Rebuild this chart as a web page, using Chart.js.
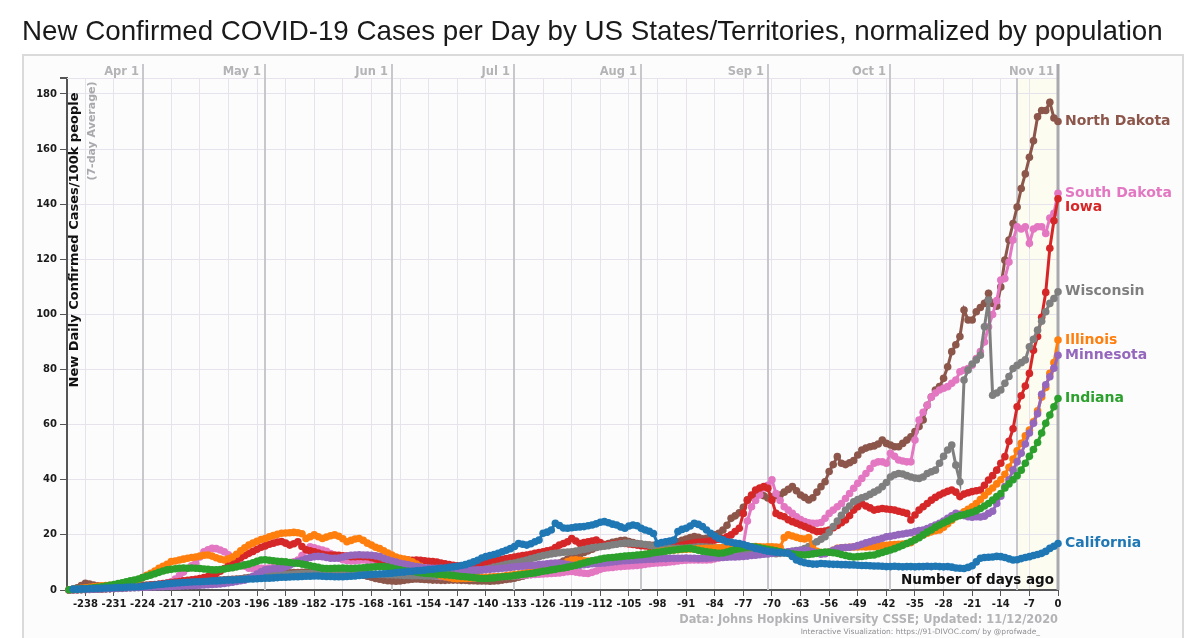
<!DOCTYPE html>
<html>
<head>
<meta charset="utf-8">
<script src="https://cdn.jsdelivr.net/npm/chart.js@4.4.0/dist/chart.umd.min.js"></script>
<style>
  html, body { margin: 0; padding: 0; background: #fff; }
  #wrap { width: 1200px; height: 638px; }
</style>
</head>
<body>
<div id="wrap"><canvas id="covidChart" width="1200" height="638"></canvas></div>
<script>
// day 0 = Nov 11 2020, one value per day starting at firstDay
const firstDay = -242;
const recentFrom = -10;

const xTickValues = [-238, -231, -224, -217, -210, -203, -196, -189, -182, -175, -168, -161, -154, -147, -140, -133, -126, -119, -112, -105, -98, -91, -84, -77, -70, -63, -56, -49, -42, -35, -28, -21, -14, -7, 0];
const yTickValues = [0, 20, 40, 60, 80, 100, 120, 140, 160, 180];
const monthLabels = ['Apr 1', 'May 1', 'Jun 1', 'Jul 1', 'Aug 1', 'Sep 1', 'Oct 1', '', 'Nov 11'];
const monthDays = [-224, -194, -163, -133, -102, -71, -41, -10, 0];

const stateNames = ['California', 'Indiana', 'Minnesota', 'Illinois', 'Wisconsin', 'Iowa', 'South Dakota', 'North Dakota'];
const stateColors = ['#1f77b4', '#2ca02c', '#9467bd', '#ff7f0e', '#7f7f7f', '#d62728', '#e377c2', '#8c564b'];

const california = [
  null, 0.3, 0.3, 0.4,
  0.4, 0.5, 0.5, 0.6, 0.6, 0.7, 0.7,
  0.8, 0.9, 0.9, 1.0, 1.1, 1.1, 1.2,
  1.3, 1.5, 1.6, 1.8, 2.0, 2.1, 2.3,
  2.4, 2.5, 2.6, 2.7, 2.8, 2.9, 3.0,
  3.0, 3.1, 3.2, 3.3, 3.3, 3.4, 3.5,
  3.6, 3.6, 3.7, 3.8, 3.9, 4.0, 4.0,
  4.1, 4.2, 4.3, 4.3, 4.4, 4.5, 4.6,
  4.6, 4.7, 4.8, 4.8, 4.9, 5.0, 5.0,
  5.1, 5.1, 5.0, 4.9, 4.9, 4.8, 4.8,
  4.8, 4.9, 5.0, 5.1, 5.3, 5.4, 5.5,
  5.6, 5.7, 5.8, 5.9, 6.0, 6.1, 6.3,
  6.4, 6.5, 6.7, 6.8, 7.0, 7.1, 7.2,
  7.4, 7.5, 7.7, 7.9, 8.0, 8.2, 8.4,
  8.6, 8.9, 9.2, 9.7, 10.2, 10.8, 11.6,
  12.1, 12.5, 12.9, 13.3, 13.9, 14.4, 15.0,
  15.8, 16.9, 16.6, 16.3, 16.8, 17.5, 18.1,
  20.6, 21.0, 21.8, 24.2, 23.4, 22.5, 22.4,
  22.6, 22.8, 22.9, 23.0, 23.3, 23.6, 24.0,
  24.6, 24.8, 24.4, 23.9, 23.6, 22.9, 22.4,
  23.2, 23.6, 23.3, 22.4, 21.8, 21.3, 20.5,
  16.9, 17.2, 17.5, 17.8, 18.1, 21.2, 22.0,
  22.4, 23.2, 24.2, 23.8, 23.0, 21.8, 20.6,
  19.6, 18.7, 18.2, 17.5, 17.3, 17.0, 16.9,
  16.5, 16.0, 15.6, 15.1, 14.8, 14.4, 14.1,
  13.9, 13.7, 13.6, 13.4, 13.3, 12.2, 10.9,
  10.3, 9.9, 9.6, 9.4, 9.4, 9.6, 9.5,
  9.4, 9.3, 9.3, 9.2, 9.2, 9.1, 9.1,
  9.0, 8.9, 8.9, 8.8, 8.7, 8.7, 8.6,
  8.5, 8.5, 8.6, 8.5, 8.4, 8.5, 8.5,
  8.4, 8.5, 8.5, 8.6, 8.5, 8.6, 8.5,
  8.4, 8.5, 8.3, 8.0, 7.9, 7.8, 8.2,
  8.8, 10.2, 11.5, 11.8, 11.9, 12.0, 12.2,
  12.1, 11.8, 11.3, 10.9, 11.0, 11.4, 11.8,
  12.1, 12.5, 12.9, 13.3, 14.0, 15.1, 15.9,
  16.9
];

const indiana = [
  0.1, 0.2, 0.3, 0.4,
  0.5, 0.6, 0.8, 1.0, 1.2, 1.4, 1.7,
  2.0, 2.3, 2.6, 3.0, 3.3, 3.6, 4.0,
  4.5, 5.0, 5.4, 5.9, 6.4, 6.9, 7.3,
  7.5, 7.7, 7.9, 8.0, 7.9, 8.0, 7.9,
  7.8, 7.6, 7.5, 7.3, 7.3, 7.4, 7.6,
  7.9, 8.1, 8.4, 8.7, 9.1, 9.4, 9.9,
  10.4, 10.9, 11.0, 10.8, 10.6, 10.4, 10.3,
  10.2, 10.0, 9.8, 9.7, 9.4, 9.1, 8.8,
  8.5, 8.2, 7.9, 7.8, 7.8, 7.9, 7.9,
  8.0, 7.9, 7.8, 7.9, 8.0, 8.1, 8.2,
  8.3, 8.4, 8.5, 8.5, 8.3, 8.0, 7.6,
  7.3, 7.0, 6.8, 6.7, 6.5, 6.3, 6.1,
  6.0, 5.9, 5.7, 5.6, 5.5, 5.4, 5.3,
  5.1, 4.9, 4.8, 4.6, 4.5, 4.3, 4.2,
  4.2, 4.3, 4.4, 4.6, 4.8, 4.9, 5.0,
  5.2, 5.4, 5.6, 5.8, 6.0, 6.2, 6.5,
  6.8, 7.0, 7.3, 7.5, 7.8, 8.0, 8.3,
  8.6, 9.0, 9.4, 9.8, 10.2, 10.6, 10.9,
  11.2, 11.5, 11.7, 11.8, 12.0, 12.1, 12.3,
  12.4, 12.5, 12.7, 12.8, 13.0, 13.2, 13.5,
  13.7, 13.9, 14.1, 14.3, 14.5, 14.7, 14.9,
  15.0, 15.1, 14.8, 14.4, 14.1, 13.9, 13.7,
  13.5, 13.3, 13.4, 13.8, 14.2, 14.7, 15.1,
  15.3, 15.5, 15.7, 15.6, 15.3, 15.0, 14.8,
  14.5, 14.2, 13.9, 13.6, 13.3, 13.1, 12.9,
  12.8, 12.7, 12.9, 13.1, 13.3, 13.6, 13.8,
  13.7, 13.5, 13.3, 12.9, 12.5, 12.2, 12.0,
  12.1, 12.2, 12.4, 12.6, 12.7, 13.2, 13.6,
  14.1, 14.5, 15.0, 15.6, 16.2, 16.9, 17.5,
  18.2, 19.0, 20.0, 21.0, 21.8, 22.8, 23.6,
  24.3, 25.0, 25.8, 26.6, 27.0, 27.3, 27.8,
  28.2, 28.8, 29.6, 30.5, 31.4, 32.6, 33.9,
  35.0, 37.0, 38.5, 40.0, 41.5, 43.5, 46.0,
  48.5, 51.0, 53.5, 57.0, 60.5, 63.5, 66.5,
  69.5
];

const minnesota = [
  0.1, 0.1, 0.2, 0.2,
  0.3, 0.3, 0.4, 0.4, 0.5, 0.5, 0.6,
  0.6, 0.7, 0.7, 0.8, 0.8, 0.9, 0.9,
  1.0, 1.0, 1.1, 1.1, 1.2, 1.2, 1.3,
  1.3, 1.4, 1.4, 1.5, 1.5, 1.6, 1.6,
  1.7, 1.8, 1.9, 2.0, 2.1, 2.2, 2.4,
  2.6, 2.8, 3.1, 3.4, 3.6, 4.2, 5.0,
  5.8, 6.6, 7.3, 7.5, 7.7, 7.8, 7.9,
  8.4, 9.0, 9.6, 10.3, 10.8, 11.3, 11.8,
  12.1, 12.2, 12.1, 11.8, 11.5, 11.5, 11.6,
  12.0, 12.3, 12.6, 12.7, 12.8, 12.7, 12.7,
  12.6, 12.4, 12.1, 11.5, 11.0, 10.5, 10.1,
  9.7, 9.4, 9.1, 8.8, 8.5, 8.3, 8.1,
  8.0, 7.9, 7.9, 7.9, 7.8, 7.8, 7.9,
  7.7, 7.5, 7.3, 7.3, 7.2, 7.3, 7.3,
  7.4, 7.5, 7.6, 7.7, 7.9, 8.0, 8.2,
  8.4, 8.5, 8.6, 8.8, 8.9, 9.0, 9.2,
  9.3, 9.5, 9.7, 9.8, 9.7, 9.5, 9.2,
  9.0, 8.9, 9.0, 9.2, 9.3, 9.5, 9.6,
  9.7, 9.8, 10.0, 10.2, 10.3, 10.5, 10.6,
  10.7, 10.8, 10.9, 11.0, 11.1, 11.2, 11.2,
  11.3, 11.4, 11.4, 11.5, 11.5, 11.5, 11.5,
  11.6, 11.5, 11.5, 11.4, 11.5, 11.5, 11.6,
  11.7, 11.8, 11.8, 11.9, 12.0, 12.0, 12.1,
  12.2, 12.3, 12.5, 12.6, 12.8, 13.0, 13.1,
  13.3, 13.4, 13.6, 13.7, 13.9, 14.0, 14.2,
  14.3, 14.5, 14.3, 13.9, 13.4, 13.0, 13.2,
  13.8, 14.4, 15.0, 15.3, 15.4, 15.5, 15.7,
  16.1, 16.6, 17.1, 17.5, 18.0, 18.3, 18.8,
  19.3, 19.5, 19.8, 20.1, 20.3, 20.6, 20.8,
  21.2, 21.6, 21.8, 22.3, 22.9, 23.6, 24.2,
  25.0, 26.0, 26.9, 27.8, 27.4, 27.0, 26.6,
  26.4, 26.6, 26.5, 26.8, 27.8, 28.6, 31.4,
  34.0, 37.5, 40.0, 43.5, 46.5, 49.6, 53.0,
  57.0, 60.5, 64.0, 71.0, 74.5, 77.4, 80.5,
  85.2
];

const illinois = [
  0.1, 0.2, 0.4, 0.6,
  0.8, 1.0, 1.2, 1.3, 1.5, 1.6, 1.7,
  1.8, 2.0, 2.3, 2.6, 3.0, 3.3, 3.8,
  4.5, 5.3, 6.1, 6.9, 7.9, 8.6, 9.3,
  10.3, 10.5, 10.9, 11.2, 11.5, 11.8, 12.0,
  12.3, 12.6, 12.7, 12.3, 11.7, 11.2, 10.9,
  11.3, 12.0, 13.0, 14.2, 15.3, 16.3, 17.0,
  17.7, 18.3, 18.7, 19.3, 19.8, 20.2, 20.6,
  20.7, 20.8, 20.9, 20.8, 20.4, 18.7, 19.3,
  20.0, 19.3, 18.7, 19.2, 19.7, 20.0, 19.5,
  18.6, 17.5, 18.0, 18.5, 18.7, 18.0, 17.0,
  16.3, 15.5, 15.0, 14.2, 13.4, 12.7, 12.0,
  11.5, 11.2, 10.9, 10.2, 9.4, 8.6, 7.8,
  7.0, 6.3, 5.7, 5.2, 4.8, 4.5, 4.2,
  4.1, 4.2, 4.2, 4.3, 4.4, 4.4, 4.5,
  4.6, 4.7, 4.8, 4.9, 5.0, 5.2, 5.4,
  5.6, 5.8, 6.0, 6.3, 6.6, 6.9, 7.1,
  7.3, 7.5, 7.9, 8.4, 9.0, 9.6, 10.3,
  10.9, 11.0, 10.8, 10.6, 10.5, 10.4, 10.3,
  10.3, 10.3, 10.5, 10.8, 11.1, 11.4, 11.7,
  12.0, 12.1, 12.3, 12.6, 12.9, 13.2, 13.5,
  13.8, 14.0, 14.2, 14.4, 14.5, 14.6, 14.7,
  14.8, 14.9, 14.9, 15.0, 15.0, 15.1, 15.1,
  15.2, 15.3, 15.4, 15.5, 15.6, 15.7, 15.7,
  15.8, 15.7, 15.7, 15.8, 15.7, 15.6, 15.7,
  15.7, 15.6, 15.5, 19.0, 20.0, 19.6, 19.1,
  18.7, 18.5, 19.0, 15.0, 14.0, 13.6, 13.3,
  13.8, 14.4, 15.1, 15.3, 15.4, 15.5, 15.6,
  15.6, 15.7, 15.6, 15.7, 15.7, 15.9, 16.1,
  16.2, 16.4, 16.5, 16.6, 16.7, 16.9, 17.2,
  18.3, 19.2, 20.0, 20.6, 21.1, 21.5, 21.8,
  22.8, 24.0, 25.3, 26.6, 27.5, 28.4, 29.3,
  30.2, 31.4, 32.8, 34.3, 35.7, 37.0, 38.5,
  40.0, 42.0, 44.5, 47.5, 50.5, 53.2, 56.0,
  58.0, 61.0, 65.0, 70.0, 73.5, 78.6, 82.5,
  90.7
];

const wisconsin = [
  0.0, 0.1, 0.1, 0.1,
  0.2, 0.2, 0.3, 0.3, 0.4, 0.4, 0.5,
  0.5, 0.6, 0.6, 0.7, 0.8, 0.8, 0.9,
  1.0, 1.1, 1.2, 1.3, 1.4, 1.5, 1.6,
  1.7, 1.8, 1.9, 2.0, 2.1, 2.2, 2.3,
  2.4, 2.5, 2.7, 2.8, 3.0, 3.1, 3.3,
  3.4, 3.6, 3.8, 4.0, 4.1, 4.3, 4.5,
  4.6, 4.8, 4.9, 5.1, 5.2, 5.3, 5.5,
  5.6, 5.7, 5.8, 5.9, 6.0, 6.0, 6.1,
  6.2, 6.2, 6.3, 6.3, 6.2, 6.2, 6.1,
  6.1, 6.0, 6.0, 5.9, 5.9, 5.8, 5.8,
  5.7, 5.7, 5.6, 5.6, 5.5, 5.5, 5.4,
  5.4, 5.3, 5.3, 5.2, 5.2, 5.2, 5.1,
  5.1, 5.1, 5.1, 5.2, 5.3, 5.5, 5.7,
  5.9, 6.1, 6.3, 6.6, 6.8, 7.0, 7.3,
  7.6, 7.9, 8.3, 8.6, 9.0, 9.3, 9.6,
  9.8, 10.1, 10.5, 10.9, 11.3, 11.7, 12.1,
  12.5, 12.8, 13.1, 13.3, 13.5, 13.7, 13.8,
  13.9, 14.1, 14.4, 14.7, 15.0, 15.3, 15.5,
  15.7, 15.9, 16.1, 16.4, 16.6, 16.9, 17.0,
  17.0, 16.9, 16.8, 16.7, 16.5, 16.2, 15.9,
  15.7, 15.5, 15.4, 15.2, 15.1, 15.1, 15.1,
  15.2, 15.4, 15.5, 15.7, 15.7, 15.6, 15.5,
  15.3, 15.2, 15.0, 14.9, 14.8, 14.6, 14.5,
  14.4, 14.2, 14.1, 13.9, 13.7, 13.5, 13.4,
  13.3, 13.2, 13.3, 13.5, 13.8, 14.0, 14.3,
  14.5, 15.0, 15.8, 16.7, 17.5, 18.4, 19.3,
  21.0, 23.0, 25.0, 27.1, 29.0, 30.5, 32.0,
  32.8, 33.5, 33.9, 34.7, 35.5, 36.3, 37.5,
  39.0, 41.0, 41.8, 42.3, 42.1, 41.5, 41.0,
  40.6, 40.5, 41.0, 42.3, 42.9, 43.5, 46.0,
  48.5, 50.8, 52.6, 45.3, 39.3, 76.2, 79.8,
  82.0, 83.5, 85.2, 95.5, 105.2, 70.7, 71.5,
  72.6, 75.0, 77.5, 80.4, 81.5, 82.5, 83.5,
  88.3, 91.0, 94.3, 97.5, 101.0, 104.0, 105.8,
  108.2
];

const iowa = [
  0.0, 0.1, 0.1, 0.2,
  0.2, 0.3, 0.3, 0.4, 0.4, 0.5, 0.5,
  0.6, 0.7, 0.8, 0.9, 1.0, 1.1, 1.2,
  1.3, 1.5, 1.7, 1.9, 2.1, 2.3, 2.5,
  2.7, 2.9, 3.1, 3.3, 3.5, 3.7, 3.9,
  4.2, 4.5, 4.9, 5.4, 6.0, 6.8, 7.8,
  9.0, 9.9, 10.8, 11.7, 12.5, 13.3, 14.0,
  14.8, 15.5, 16.0, 16.6, 17.0, 17.4, 17.6,
  17.0, 16.3, 16.8, 17.5, 15.8, 14.6, 14.2,
  13.9, 13.4, 13.0, 12.7, 12.7, 12.7, 12.6,
  12.4, 12.3, 12.1, 12.1, 12.2, 12.1, 12.1,
  11.7, 11.3, 10.8, 10.3, 10.2, 10.5, 10.8,
  10.9, 11.0, 10.9, 10.8, 10.9, 10.8, 10.6,
  10.4, 10.3, 10.1, 9.8, 9.5, 9.2, 9.0,
  8.8, 8.7, 8.6, 8.5, 8.8, 9.2, 9.7,
  10.0, 10.3, 10.6, 10.9, 11.1, 11.4, 11.7,
  12.0, 12.2, 12.5, 12.7, 13.0, 13.3, 13.6,
  13.9, 14.2, 14.5, 15.4, 16.3, 16.9, 17.5,
  18.7, 17.8, 16.9, 17.2, 17.5, 17.8, 18.1,
  17.2, 16.3, 16.5, 16.7, 16.9, 17.0, 16.9,
  16.7, 16.5, 16.3, 16.1, 16.0, 15.8, 15.7,
  15.6, 15.6, 15.7, 15.7, 15.7, 15.9, 16.2,
  16.6, 16.9, 17.1, 17.3, 17.4, 17.5, 17.8,
  18.1, 18.4, 18.7, 19.3, 20.0, 21.2, 22.4,
  27.8, 32.6, 34.5, 36.3, 37.0, 37.5, 36.9,
  32.6, 27.8, 27.0, 26.6, 25.5, 24.8, 24.2,
  23.6, 23.0, 22.4, 21.8, 21.2, 21.2, 21.4,
  21.8, 22.6, 23.4, 24.4, 25.4, 27.0, 29.0,
  30.2, 31.4, 30.5, 29.8, 29.0, 29.3, 29.6,
  29.4, 29.2, 29.0, 28.6, 28.2, 27.8, 25.4,
  27.2, 29.0, 30.2, 31.4, 32.6, 33.6, 34.5,
  35.2, 35.8, 36.3, 35.5, 33.9, 34.8, 35.3,
  35.7, 36.0, 36.3, 38.0, 39.9, 41.5, 43.5,
  46.0, 48.4, 54.0, 58.5, 66.5, 70.5, 74.0,
  78.6, 87.0, 92.0, 99.0, 108.0, 124.0, 134.0,
  142.0
];

const southDakota = [
  0.0, 0.1, 0.1, 0.2,
  0.2, 0.3, 0.3, 0.4, 0.4, 0.5, 0.5,
  0.6, 0.6, 0.7, 0.8, 0.9, 1.0, 1.1,
  1.2, 1.4, 1.6, 1.8, 2.0, 2.2, 2.4,
  3.0, 4.0, 5.2, 6.5, 7.8, 8.8, 9.7,
  12.0, 13.9, 14.6, 15.1, 15.0, 14.5, 13.9,
  12.8, 11.5, 10.4, 9.4, 8.6, 7.9, 7.8,
  7.8, 7.9, 7.9, 8.0, 8.2, 8.3, 8.5,
  8.9, 9.5, 10.2, 10.9, 12.5, 14.2, 15.7,
  15.3, 14.9, 14.5, 14.0, 13.2, 12.3, 11.5,
  11.0, 10.7, 10.5, 10.6, 10.8, 10.9, 10.7,
  10.4, 10.0, 9.5, 9.0, 8.5, 8.0, 7.6,
  7.2, 6.9, 6.6, 6.3, 6.0, 5.8, 5.6,
  5.4, 5.2, 5.0, 4.9, 4.8, 4.7, 4.6,
  4.5, 4.5, 4.4, 4.4, 4.4, 4.5, 4.5,
  4.6, 4.6, 4.7, 4.8, 4.9, 4.9, 5.0,
  5.1, 5.2, 5.3, 5.4, 5.5, 5.6, 5.7,
  5.8, 5.9, 6.0, 6.1, 6.2, 6.4, 6.6,
  6.7, 6.5, 6.3, 6.1, 6.0, 6.4, 6.9,
  7.5, 7.9, 8.1, 8.2, 8.4, 8.5, 8.6,
  8.7, 8.8, 8.9, 9.1, 9.3, 9.5, 9.7,
  9.8, 9.9, 10.0, 10.2, 10.3, 10.5, 10.7,
  10.8, 10.9, 10.9, 10.9, 10.9, 10.9, 11.0,
  11.3, 11.6, 12.1, 12.5, 13.0, 13.5, 13.9,
  16.5, 25.0, 30.2, 32.5, 34.5, 37.0, 38.0,
  40.0, 35.0, 32.5, 30.2, 29.0, 27.8, 26.6,
  25.6, 24.8, 24.4, 24.2, 24.2, 24.5, 26.0,
  27.8, 29.0, 30.2, 31.4, 33.2, 35.0, 36.9,
  38.7, 40.5, 42.3, 44.1, 46.0, 46.5, 46.5,
  46.0, 49.6, 48.5, 47.2, 46.8, 46.5, 46.5,
  54.4, 61.7, 64.5, 67.0, 70.0, 71.5, 72.6,
  73.2, 73.8, 75.0, 76.2, 79.2, 79.8, 80.4,
  81.6, 84.0, 86.5, 90.0, 95.5, 100.0, 105.0,
  112.5, 113.0, 119.0, 127.0, 131.8, 131.0, 131.8,
  125.8, 131.0, 131.8, 131.8, 129.4, 135.0, 136.7,
  144.0
];

const northDakota = [
  0.0, 0.3, 0.8, 1.6,
  2.4, 2.2, 1.8, 1.5, 1.3, 1.2, 1.2,
  1.2, 1.3, 1.3, 1.4, 1.5, 1.5, 1.6,
  1.7, 1.8, 1.9, 2.0, 2.1, 2.2, 2.3,
  2.4, 2.5, 2.6, 2.7, 2.8, 2.9, 3.0,
  3.1, 3.2, 3.3, 3.4, 3.5, 3.6, 3.7,
  3.8, 3.9, 4.0, 4.1, 4.3, 4.5, 4.7,
  4.9, 5.1, 5.3, 5.5, 5.7, 5.9, 6.0,
  6.1, 6.2, 6.3, 6.3, 6.4, 6.4, 6.5,
  6.5, 6.6, 6.6, 6.7, 6.7, 6.8, 6.8,
  6.8, 6.7, 6.5, 6.2, 5.8, 5.4, 5.0,
  4.6, 4.2, 3.9, 3.6, 3.4, 3.3, 3.2,
  3.3, 3.5, 3.7, 3.9, 4.0, 3.9, 3.8,
  3.7, 3.6, 3.6, 3.5, 3.5, 3.6, 3.6,
  3.6, 3.5, 3.5, 3.4, 3.4, 3.3, 3.3,
  3.3, 3.2, 3.3, 3.4, 3.6, 3.8, 4.0,
  4.3, 4.6, 5.0, 5.4, 5.8, 6.3, 6.8,
  7.3, 7.9, 8.5, 9.1, 9.8, 10.5, 11.2,
  11.8, 12.4, 13.0, 13.6, 14.2, 14.8, 15.4,
  16.0, 16.5, 16.9, 17.3, 17.6, 17.9, 18.0,
  17.6, 17.2, 16.9, 16.6, 16.4, 16.3, 16.2,
  16.2, 16.3, 16.5, 16.8, 17.1, 17.5, 18.0,
  18.5, 19.0, 19.4, 19.1, 18.6, 18.8, 19.3,
  20.0, 20.6, 21.8, 23.5, 26.0, 26.9, 28.0,
  30.0, 32.7, 33.8, 34.5, 35.0, 34.2, 33.4,
  33.8, 34.2, 34.5, 35.5, 36.5, 37.5, 36.0,
  34.5, 33.6, 32.7, 33.5, 35.5, 37.5, 39.3,
  43.0, 45.5, 48.4, 46.0, 45.5, 46.2, 47.0,
  49.0, 50.8, 51.5, 52.0, 52.3, 53.0, 54.4,
  53.2, 52.6, 52.0, 52.0, 53.2, 54.4, 55.6,
  57.5, 59.3, 61.7, 67.0, 70.0, 72.6, 73.8,
  76.8, 81.0, 86.5, 89.0, 92.0, 101.6, 98.0,
  98.0, 101.0, 102.5, 104.0, 107.7, 104.0, 103.0,
  110.0, 119.7, 127.0, 133.0, 139.0, 145.7, 151.0,
  157.0, 163.0, 171.7, 174.0, 174.0, 177.0, 171.3,
  170.0
];

const stateSeries = [california, indiana, minnesota, illinois, wisconsin, iowa, southDakota, northDakota];

const FONT = '"DejaVu Sans", sans-serif';

const divocPlugin = {
  id: 'divoc',
  beforeDraw(chart) {
    const { ctx, chartArea: area, scales: { x } } = chart;
    ctx.save();
    ctx.fillStyle = '#ffffff';
    ctx.fillRect(0, 0, chart.width, chart.height);
    ctx.fillStyle = '#fcfcfd';
    ctx.fillRect(23, 55, 1160, 583);
    ctx.strokeStyle = '#dadada';
    ctx.lineWidth = 2;
    ctx.strokeRect(23, 55, 1160, 590);
    // recent days shading
    const xs = x.getPixelForValue(recentFrom);
    const xe = x.getPixelForValue(0);
    ctx.fillStyle = '#fcfcf1';
    ctx.fillRect(xs, area.top, xe - xs, area.bottom - area.top);
    ctx.restore();
  },
  beforeDatasetsDraw(chart) {
    const { ctx, chartArea: area, scales: { x } } = chart;
    ctx.save();
    ctx.strokeStyle = '#e7e3ec';
    ctx.lineWidth = 1;
    ctx.beginPath();
    ctx.moveTo(area.left, area.top + 0.5);
    ctx.lineTo(area.right, area.top + 0.5);
    ctx.stroke();
    // top outer tick of the y axis
    ctx.strokeStyle = '#555';
    ctx.lineWidth = 2;
    ctx.beginPath();
    ctx.moveTo(area.left - 7, area.top);
    ctx.lineTo(area.left, area.top);
    ctx.stroke();

    monthDays.forEach((d, i) => {
      const px = Math.round(x.getPixelForValue(d));
      const isNow = d === 0;
      ctx.strokeStyle = isNow ? '#a8a8ad' : '#c8c8cc';
      ctx.lineWidth = isNow ? 3 : 2;
      ctx.beginPath();
      ctx.moveTo(px, monthLabels[i] ? 64 : area.top);
      ctx.lineTo(px, area.bottom);
      ctx.stroke();
      if (monthLabels[i]) {
        ctx.fillStyle = '#b4b4b7';
        ctx.font = 'bold 11.5px ' + FONT;
        ctx.textAlign = 'right';
        ctx.textBaseline = 'middle';
        ctx.fillText(monthLabels[i], px - 4, 72);
      }
    });
    ctx.restore();
  },
  afterDatasetsDraw(chart) {
    const { ctx, chartArea: area } = chart;
    ctx.save();

    // y axis titles, rotated
    ctx.translate(75, 240);
    ctx.rotate(-Math.PI / 2);
    ctx.textAlign = 'center';
    ctx.textBaseline = 'middle';
    ctx.fillStyle = '#111';
    ctx.font = 'bold 13px ' + FONT;
    ctx.fillText('New Daily Confirmed Cases/100k people', 0, 0);
    ctx.setTransform(1, 0, 0, 1, 0, 0);
    ctx.translate(92, 131);
    ctx.rotate(-Math.PI / 2);
    ctx.fillStyle = '#a9a9ad';
    ctx.font = 'bold 11px ' + FONT;
    ctx.fillText('(7-day Average)', 0, 0);
    ctx.setTransform(1, 0, 0, 1, 0, 0);

    // x axis title inside plot
    ctx.textAlign = 'right';
    ctx.textBaseline = 'alphabetic';
    ctx.fillStyle = '#111';
    ctx.font = 'bold 13.5px ' + FONT;
    ctx.fillText('Number of days ago', area.right - 4, area.bottom - 6);

    // end-of-line state labels
    const ends = chart.data.datasets.map((ds, i) => {
      const meta = chart.getDatasetMeta(i);
      const pt = meta.data[meta.data.length - 1];
      return { name: stateNames[i], color: stateColors[i], x: pt.x, y: pt.y };
    }).sort((a, b) => a.y - b.y);
    for (let i = 1; i < ends.length; i++) {
      if (ends[i].y - ends[i - 1].y < 14) ends[i].y = ends[i - 1].y + 14;
    }
    ctx.textAlign = 'left';
    ctx.textBaseline = 'middle';
    ctx.font = 'bold 14px ' + FONT;
    ends.forEach(e => {
      ctx.fillStyle = e.color;
      ctx.fillText(e.name, e.x + 7, e.y);
    });
    ctx.restore();
  },
  afterDraw(chart) {
    const { ctx, chartArea: area } = chart;
    ctx.save();
    // title
    const title = 'New Confirmed COVID-19 Cases per Day by US States/Territories, normalized by population';
    ctx.font = '100px "Liberation Sans", Arial, sans-serif';
    const size = 100 * 1141 / ctx.measureText(title).width;
    ctx.font = size.toFixed(2) + 'px "Liberation Sans", Arial, sans-serif';
    ctx.fillStyle = '#1a1a1a';
    ctx.textAlign = 'left';
    ctx.textBaseline = 'middle';
    ctx.fillText(title, 22, 32);

    // footer
    ctx.textAlign = 'right';
    ctx.fillStyle = '#b3b3b6';
    ctx.font = 'bold 11.4px ' + FONT;
    ctx.fillText('Data: Johns Hopkins University CSSE; Updated: 11/12/2020', area.right, 620);
    ctx.fillStyle = '#8f8f92';
    ctx.font = '7.5px ' + FONT;
    ctx.fillText('Interactive Visualization: https://91-DIVOC.com/ by @profwade_', area.right - 18, 632);
    ctx.restore();
  }
};

const datasets = stateSeries.map((values, i) => ({
  label: stateNames[i],
  data: values.map((v, k) => ({ x: firstDay + k, y: v })),
  borderColor: stateColors[i],
  backgroundColor: stateColors[i],
  pointBackgroundColor: stateColors[i],
  borderWidth: 3,
  pointRadius: 3.8,
  pointBorderWidth: 0,
  pointHoverRadius: 0,
  tension: 0,
  clip: false
}));

new Chart(document.getElementById('covidChart'), {
  type: 'line',
  data: { datasets },
  plugins: [divocPlugin],
  options: {
    responsive: false,
    animation: false,
    events: [],
    layout: { padding: { left: 23, right: 142, top: 78, bottom: 26 } },
    plugins: {
      legend: { display: false },
      tooltip: { enabled: false },
      title: { display: false }
    },
    scales: {
      x: {
        type: 'linear',
        min: -242.5,
        max: 0,
        afterBuildTicks: s => { s.ticks = xTickValues.map(v => ({ value: v })); },
        afterFit: s => { s.height = 22; },
        ticks: {
          autoSkip: false,
          maxRotation: 0,
          padding: 2,
          color: '#1a1a1a',
          font: { family: FONT, size: 10, weight: 'bold' },
          callback: v => String(v)
        },
        grid: { color: '#e7e3ec', lineWidth: 1, tickLength: 6, tickColor: '#555' },
        border: { color: '#555', width: 2 }
      },
      y: {
        min: 0,
        max: 185.8,
        afterBuildTicks: s => { s.ticks = yTickValues.map(v => ({ value: v })); },
        afterFit: s => { s.width = 44; },
        ticks: {
          padding: 3,
          color: '#1a1a1a',
          font: { family: FONT, size: 10, weight: 'bold' },
          callback: v => String(v)
        },
        grid: { color: '#e7e3ec', lineWidth: 1, tickLength: 7, tickColor: '#555' },
        border: { color: '#555', width: 2 }
      }
    }
  }
});
</script>
</body>
</html>
